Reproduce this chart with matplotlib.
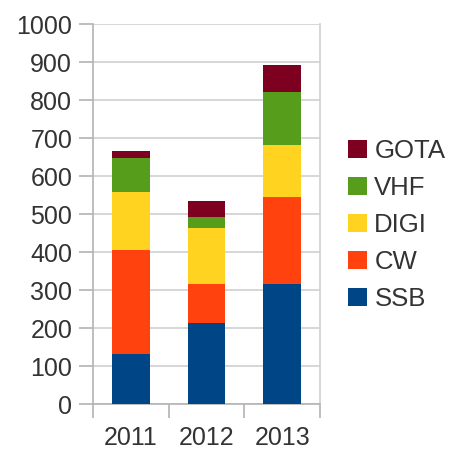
import numpy as np
import matplotlib.pyplot as plt

years = ['2011', '2012', '2013']
ssb = [132, 213, 315]
cw = [272, 102, 229]
digi = [155, 148, 138]
vhf = [89, 30, 138]
gota = [19, 40, 73]

series = [('SSB', ssb, '#004586'), ('CW', cw, '#ff420e'), ('DIGI', digi, '#ffd320'),
          ('VHF', vhf, '#579d1c'), ('GOTA', gota, '#7e0021')]

plt.rcParams['font.family'] = ['Liberation Sans', 'DejaVu Sans']
txt = '#333333'
grid = '#b3b3b3'

fig = plt.figure(figsize=(4.58, 4.5), dpi=100)
ax = fig.add_axes([93/458, 1 - 404/450, (320-93)/458, (404-24)/450])

x = np.arange(len(years))
bottom = np.zeros(len(years))
handles = []
for name, vals, col in series:
    h = ax.bar(x, vals, 0.5, bottom=bottom, color=col, label=name, zorder=3)
    handles.append(h)
    bottom += np.array(vals)

ax.set_xlim(-0.5, 2.5)
ax.set_ylim(0, 1000)
ax.set_yticks(range(0, 1001, 100))
ax.yaxis.grid(True, color='#d0d0d0', lw=1.2, zorder=0)

ax.set_xticks(x)
ax.set_xticklabels(years)
ax.set_xticks([-0.5, 0.5, 1.5, 2.5], minor=True)
ax.tick_params(axis='x', which='major', length=0, pad=16, labelsize=18, labelcolor=txt)
ax.tick_params(axis='x', which='minor', length=10, color=grid, width=1.2)
ax.tick_params(axis='y', length=10, color=grid, width=1.2, labelsize=18, labelcolor=txt, pad=5)

for s in ['left', 'bottom', 'right']:
    ax.spines[s].set_color(grid)
    ax.spines[s].set_linewidth(1.2)
ax.spines['right'].set_color('#d0d0d0')
ax.spines['top'].set_visible(False)

leg = fig.legend(handles[::-1], [s[0] for s in series][::-1], loc='center left',
                 bbox_to_anchor=(325/458, 1 - 225/450), frameon=False, fontsize=18.5,
                 handlelength=0.72, handleheight=0.72, handletextpad=0.3,
                 labelspacing=0.5, labelcolor=txt)

fig.savefig('out.png', dpi=100)
